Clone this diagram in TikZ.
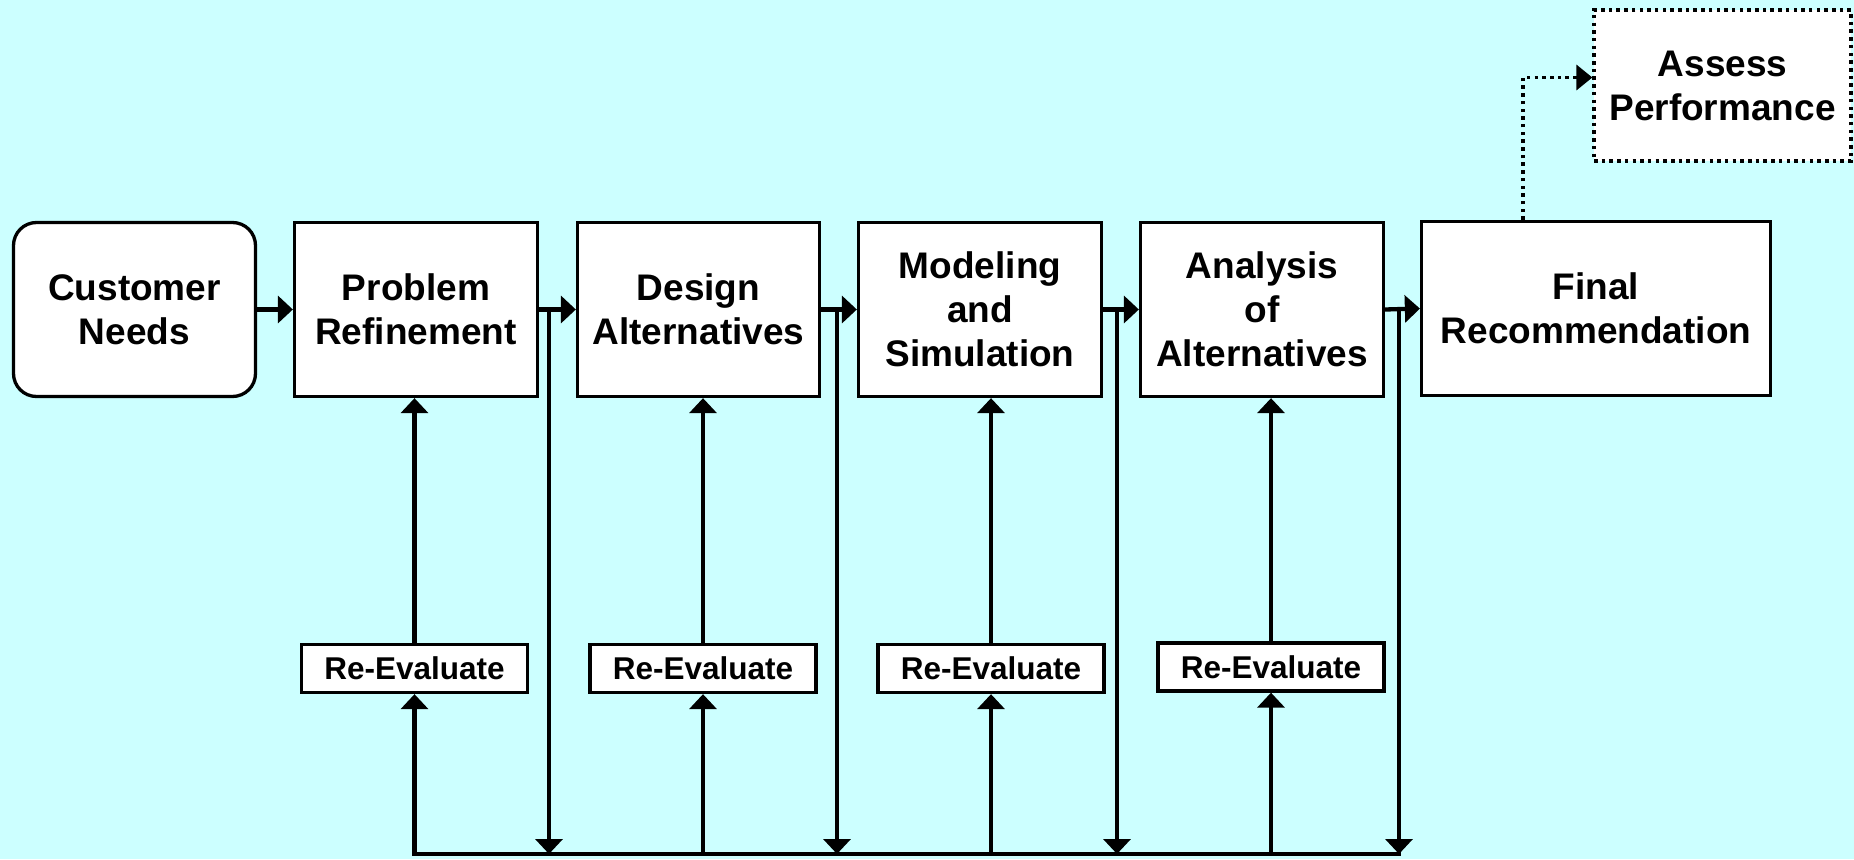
\documentclass[tikz,border=0pt]{standalone}
\usepackage{fontspec}
\setmainfont{Liberation Sans}
\usetikzlibrary{arrows.meta,calc}
\definecolor{bgcyan}{HTML}{CCFFFF}
\begin{document}
\begin{tikzpicture}[x=1pt,y=-1pt,
  box/.style={draw=black, fill=white, line width=3.3pt, inner sep=0pt, align=center,
    font=\fontsize{37}{44}\selectfont\bfseries, minimum height=174pt},
  rbox/.style={draw=black, fill=white, line width=3.3pt, inner sep=0pt,
    minimum width=226pt, minimum height=48pt, font=\fontsize{31.5}{36}\selectfont\bfseries},
  dotbox/.style={dash pattern=on 3.5pt off 4.2pt, line width=3.3pt},
  conn/.style={line width=4.3pt, -{Triangle[length=15pt,width=27pt]}},
  dotconn/.style={line width=3.6pt, dash pattern=on 3.5pt off 4.2pt, -{Triangle[length=16pt,width=25pt]}},
  base line/.style={line width=4.3pt, line cap=rect}
]
\useasboundingbox (0,0) rectangle (1854,859);
\fill[bgcyan] (0,0) rectangle (1854,859);

% top row
\node[box, rounded corners=23pt, minimum width=242pt] (cn) at (134.5,309.5) {Customer\\Needs};
\node[box, minimum width=243pt] (pr) at (416,309.5) {Problem\\Refinement};
\node[box, minimum width=242pt] (da) at (698.5,309.5) {Design\\Alternatives};
\node[box, minimum width=243pt] (ms) at (980,309.5) {Modeling\\and\\Simulation};
\node[box, minimum width=243pt] (aa) at (1262,309.5) {Analysis\\of\\Alternatives};
\node[box, minimum width=349pt] (fr) at (1596,308.5) {Final\\Recommendation};
\node[box, dotbox, minimum width=257pt, minimum height=151pt] (ap) at (1722.5,85.5) {Assess\\Performance};

% re-evaluate boxes
\node[rbox] (r1) at (414.5,668.5) {Re-Evaluate};
\node[rbox] (r2) at (703,668.5) {Re-Evaluate};
\node[rbox] (r3) at (991,668.5) {Re-Evaluate};
\node[rbox] (r4) at (1271,667) {Re-Evaluate};

% junction coordinates
\coordinate (j1) at (549,310);
\coordinate (j2) at (837,310);
\coordinate (j3) at (1117,310);
\coordinate (j4) at (1399,310);
\coordinate (base) at (0,854);

% horizontal flow arrows
\draw[conn] (cn.east) -- (pr.west);
\draw[conn] (pr.east) -- (da.west);
\draw[conn] (da.east) -- (ms.west);
\draw[conn] (ms.east) -- (aa.west);
\draw[conn] (aa.east) -- (fr.west);

% bottom feedback line
\draw[base line] (r1.south |- base) -- (j4 |- base);

% down lines
\draw[conn] (j1) -- (j1 |- base);
\draw[conn] (j2) -- (j2 |- base);
\draw[conn] (j3) -- (j3 |- base);
\draw[conn] (j4) -- (j4 |- base);

% up arrows into re-evaluate boxes
\draw[conn] (r1.south |- base) -- (r1.south);
\draw[conn] (r2.south |- base) -- (r2.south);
\draw[conn] (r3.south |- base) -- (r3.south);
\draw[conn] (r4.south |- base) -- (r4.south);

% up arrows from re-evaluate to stages
\draw[conn] (r1.north) -- (r1.north |- pr.south);
\draw[conn] (r2.north) -- (r2.north |- da.south);
\draw[conn] (r3.north) -- (r3.north |- ms.south);
\draw[conn] (r4.north) -- (r4.north |- aa.south);

% dotted arrow to assess performance
\draw[dotconn] ([xshift=-73pt]fr.north) |- ([yshift=8pt]ap.west);
\end{tikzpicture}
\end{document}
